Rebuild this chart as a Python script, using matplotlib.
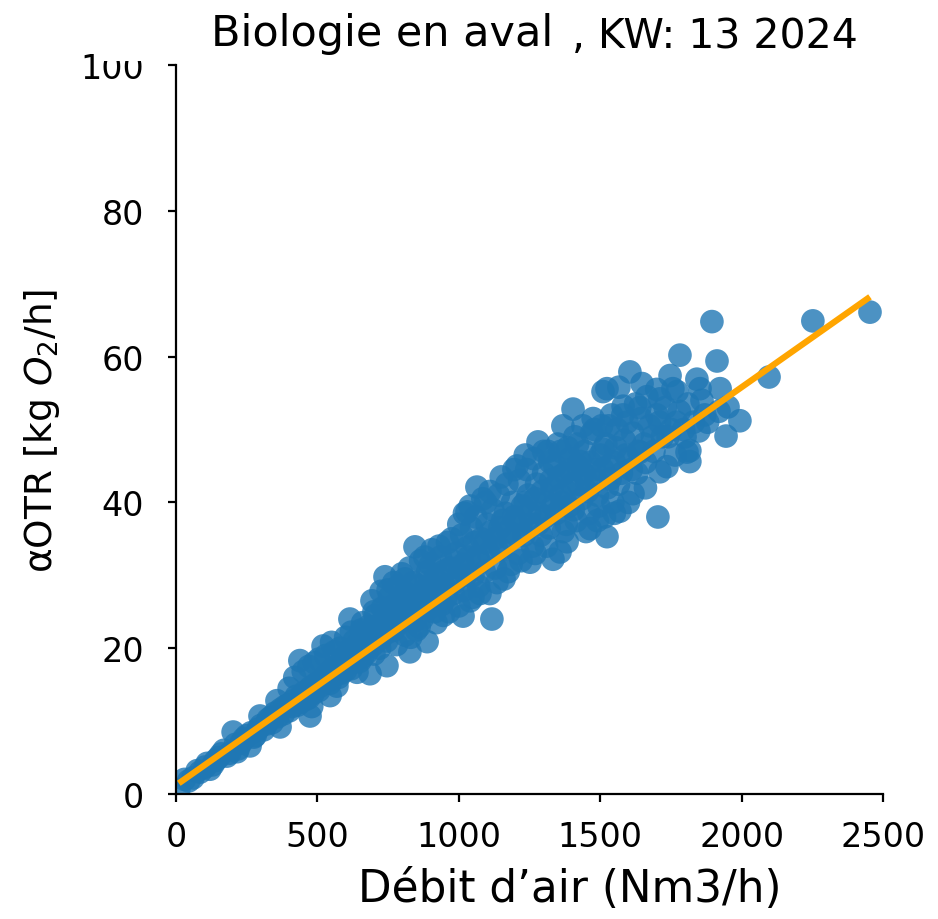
import matplotlib
matplotlib.use("Agg")
import matplotlib.pyplot as plt
from matplotlib.patches import Rectangle

# Air flow (Nm3/h) and alpha-OTR (kg O2/h) measurements
air_flow = [
    10, 103, 120, 202, 216, 262, 297, 357, 368, 438, 474, 520, 569, 640, 615,
    693, 686, 739, 746, 799, 827, 845, 888, 1015, 1029, 1064, 1117, 1206, 1252,
    1280, 1322, 1333, 1368, 1439, 1404, 1464, 1475, 1510, 1524, 1383, 1358,
    1429, 1393, 1510, 1535, 1566, 1570, 1581, 1605, 1616, 1641, 1648, 1704,
    1711, 1711, 1736, 1747, 1757, 1772, 1782, 1807, 1817, 1817, 1842, 1849,
    1853, 1895, 1913, 1924, 1945, 1952, 1994, 2097, 2252, 2454, 1524,
    60, 85, 140, 160, 180, 230, 250, 275, 290, 320, 335, 350, 380, 395, 410,
    425, 440, 455, 470, 490, 505, 520, 535, 545, 560, 575, 590, 600, 610, 625,
    630, 645, 655, 660, 670, 680, 690, 700, 705, 715, 720, 730, 740, 745, 755,
    760, 770, 775, 785, 790, 800, 810, 815, 825, 830, 840, 850, 855, 865, 870,
    880, 890, 895, 905, 910, 920, 925, 935, 940, 950, 960, 965, 970, 980, 990,
    995, 1000, 1010, 1015, 1020, 1030, 1040, 1045, 1050, 1060, 1065, 1070,
    1080, 1085, 1090, 1100, 1105, 1110, 1120, 1125, 1130, 1140, 1145, 1150,
    1160, 1165, 1170, 1180, 1185, 1190, 1200, 1210, 1215, 1225, 1230, 1240,
    1245, 1255, 1260, 1265, 1275, 1285, 1290, 1300, 1310, 1315, 1320, 1330,
    1340, 1345, 1350, 1360, 1370, 1375, 1385, 1390, 1400, 1410, 1415, 1420,
    1435, 1445, 1450, 1460, 1470, 1480, 1490, 1500, 1505, 1515, 1520, 1530,
    1540, 1545, 1555, 1560, 1575, 1585, 1595, 1600, 1615, 1625, 1630, 1645,
    1655, 1665, 1675, 1690, 1700, 1720, 1730, 1750, 1765, 1780, 1795, 1810,
    1830, 1870,
    30, 45, 75, 110, 130, 150, 170, 190, 210, 220, 240, 265, 280, 300, 310,
    325, 340, 360, 370, 385, 400, 415, 430, 445, 460, 475, 485, 500, 510, 525,
    540, 550, 565, 580, 585, 595, 605, 615, 620, 635, 640, 650, 665, 675, 685,
    695, 710, 725, 735, 750, 765, 780, 795, 805, 820, 835, 845, 860, 875, 885,
    900, 915, 930, 945, 955, 975, 985, 1005, 1025, 1035, 1055, 1075, 1095,
    1115, 1135, 1155, 1175, 1195, 1205, 1220, 1235, 1250, 1270, 1280, 1295,
    1305, 1325, 1335, 1355, 1365, 1380, 1395, 1405, 1425, 1440, 1455, 1465,
    1485, 1495, 1510, 1525, 1550, 1565, 1590, 1610, 1635, 1660, 1685, 1710,
    560, 580, 600, 620, 660, 700, 725, 750, 770, 780, 810, 830, 860, 880, 900,
    915, 930, 945, 975, 1000, 1020, 1040, 1050, 1075, 1095, 1110, 1135, 1150,
    1175, 1195, 1220, 1235, 1270, 1300, 1310, 1360, 1380, 1420, 1450, 1480,
    1490, 1530, 1550, 1580, 1600, 1640, 1660, 1700, 1740, 1770, 1800, 1860,
    1880, 1920,
    400, 420, 450, 470, 480, 490, 505, 530, 545, 550,
]
otr = [
    0.6, 3.7, 3.4, 8.5, 5.8, 6.6, 10.7, 12.8, 9.2, 18.3, 10.7, 20.3, 14.8, 16.7,
    24.0, 26.5, 16.5, 29.8, 17.6, 30.2, 19.5, 33.9, 20.9, 24.4, 38.7, 42.1,
    24.0, 45.0, 31.8, 48.3, 45.6, 32.2, 50.5, 50.5, 52.8, 36.4, 51.5, 55.2,
    35.3, 34.6, 33.2, 45.6, 46.0, 47.3, 43.2, 55.8, 38.8, 53.2, 57.9, 41.2,
    46.9, 56.3, 38.0, 54.2, 44.2, 44.9, 57.4, 55.6, 55.2, 60.2, 46.9, 45.6,
    47.1, 56.9, 49.8, 55.6, 64.8, 59.4, 55.6, 49.1, 53.1, 51.2, 57.2, 64.9,
    66.1, 55.6,
    2.2, 3.0, 4.6, 5.5, 5.2, 7.0, 8.0, 7.8, 8.9, 9.6, 10.5, 11.1, 11.0, 12.2,
    12.0, 13.4, 12.6, 14.0, 13.2, 15.0, 14.2, 15.8, 16.5, 15.2, 17.4, 16.0,
    18.3, 17.0, 19.2, 18.0, 21.0, 19.6, 22.5, 18.8, 20.5, 23.0, 21.5, 19.2,
    24.5, 22.0, 20.0, 25.5, 23.2, 21.0, 27.0, 24.8, 22.5, 26.0, 28.5, 23.5,
    25.5, 21.8, 27.5, 31.0, 24.5, 29.0, 22.5, 26.5, 32.0, 24.0, 28.0, 30.5,
    25.5, 33.5, 27.0, 23.5, 30.0, 32.5, 26.0, 28.5, 34.5, 25.0, 31.0, 27.5,
    33.0, 29.5, 25.8, 35.5, 31.5, 28.0, 33.8, 26.5, 36.5, 30.0, 38.0, 32.5,
    28.5, 35.0, 40.5, 30.5, 37.0, 33.0, 27.5, 39.0, 35.0, 31.0, 41.0, 36.5,
    33.5, 29.5, 38.5, 42.5, 35.0, 31.5, 40.0, 37.5, 33.0, 43.0, 39.5, 35.5,
    44.5, 41.0, 37.0, 34.0, 46.0, 42.5, 38.5, 35.5, 44.0, 40.0, 47.0, 36.5,
    42.0, 45.0, 38.5, 48.0, 41.0, 36.0, 44.0, 47.5, 39.5, 42.5, 49.0, 37.5,
    45.0, 40.5, 47.0, 43.0, 38.5, 49.5, 44.5, 41.0, 46.5, 50.5, 38.0, 48.0,
    45.0, 52.0, 40.0, 47.5, 50.0, 44.0, 48.5, 51.0, 46.0, 49.5, 53.5, 44.0,
    51.5, 48.0, 54.5, 50.5, 47.0, 52.0, 49.0, 53.0, 50.0, 46.5, 52.5, 50.0,
    53.5, 51.0, 52.0,
    2.0, 1.8, 3.2, 4.2, 4.0, 5.0, 6.0, 5.6, 6.8, 6.2, 7.6, 8.4, 8.0, 9.4, 8.8,
    10.2, 9.8, 10.6, 11.6, 12.0, 11.4, 12.8, 12.2, 13.5, 13.0, 14.6, 13.8,
    15.2, 14.8, 16.0, 15.6, 17.0, 16.4, 17.8, 16.6, 18.8, 17.8, 19.8, 17.2,
    19.0, 20.5, 18.2, 21.6, 19.4, 22.4, 20.4, 23.0, 21.4, 24.0, 22.2, 25.5,
    23.4, 26.5, 24.2, 25.8, 27.0, 23.8, 28.5, 26.0, 29.0, 27.5, 29.6, 28.2,
    30.5, 27.0, 32.0, 29.0, 31.0, 30.0, 32.5, 34.5, 31.8, 34.5, 36.0, 33.5,
    37.5, 36.0, 38.0, 35.5, 37.0, 40.0, 38.5, 40.5, 37.0, 41.5, 38.0, 43.0,
    39.5, 43.5, 40.0, 41.5, 44.5, 39.0, 42.5, 44.0, 41.5, 45.5, 43.0, 39.5,
    44.5, 42.0, 45.5, 42.5, 46.5, 44.5, 47.0, 45.5, 49.0, 51.0,
    19.5, 20.0, 21.5, 22.2, 23.5, 25.0, 27.8, 28.0, 29.0, 20.5, 29.5, 21.5,
    23.0, 32.5, 31.5, 25.0, 34.0, 24.5, 35.0, 37.0, 38.5, 39.5, 27.0, 27.5,
    40.0, 41.5, 29.0, 43.5, 30.5, 44.5, 32.0, 46.5, 33.0, 47.0, 34.0, 47.0,
    37.0, 48.0, 36.0, 50.0, 37.5, 50.5, 38.5, 52.0, 40.0, 53.0, 42.0, 55.5,
    49.0, 51.0, 49.0, 54.0, 51.0, 52.5,
    14.5, 16.0, 16.8, 17.5, 12.0, 18.0, 18.5, 19.0, 13.5, 20.8,
]

# Linear fit of the cloud
fit_slope = 0.0273
fit_intercept = 1.2

x_ticks = [0, 500, 1000, 1500, 2000, 2500]
y_ticks = [0, 20, 40, 60, 80, 100]

plt.rcParams["font.family"] = "DejaVu Sans"
W, H = 938, 920

fig = plt.figure(figsize=(W / 100, H / 100), dpi=100)
ax = fig.add_axes([176 / W, 1 - 795 / H, (883 - 176) / W, (795 - 66) / H])

ax.scatter(air_flow, otr, s=290, color="#1f77b4", alpha=0.8,
           edgecolors="none", zorder=2)

x0, x1 = min(air_flow), max(air_flow)
ax.plot([x0, x1], [fit_intercept + fit_slope * x0, fit_intercept + fit_slope * x1],
        color="orange", linewidth=4.5, solid_capstyle="butt", zorder=3)

ax.set_xlim(0, 2500)
ax.set_ylim(0, 100)
ax.set_xticks(x_ticks)
ax.set_yticks(y_ticks)
ax.set_xticklabels([str(v) for v in x_ticks], fontsize=24)
ax.set_yticklabels([str(v) for v in y_ticks], fontsize=24)

for side in ("top", "right"):
    ax.spines[side].set_visible(False)
for side in ("left", "bottom"):
    ax.spines[side].set_linewidth(1.6)
ax.tick_params(axis="both", length=6, width=1.6, direction="out")
ax.tick_params(axis="x", pad=13)
ax.tick_params(axis="y", pad=17)

ax.set_xlabel("Débit d’air (Nm3/h)", fontsize=31.5, labelpad=10,
              x=(570 - 176) / (883 - 176))
ax.set_ylabel(r"αOTR [kg $O_2$/h]", fontsize=27, labelpad=13)

# white band across the top of the figure, behind the title
fig.patches.append(Rectangle((94 / W, 1 - 62 / H), 1 - 94 / W, 62 / H,
                             transform=fig.transFigure, facecolor="white",
                             edgecolor="none", zorder=5))

fig.text(211 / W, 1 - 46 / H, "Biologie en aval", fontsize=31, ha="left",
         va="baseline", zorder=6)
fig.text(572 / W, 1 - 48 / H, ", KW: 13 2024", fontsize=29.5, ha="left",
         va="baseline", zorder=6)

fig.savefig("out.png", dpi=100)
